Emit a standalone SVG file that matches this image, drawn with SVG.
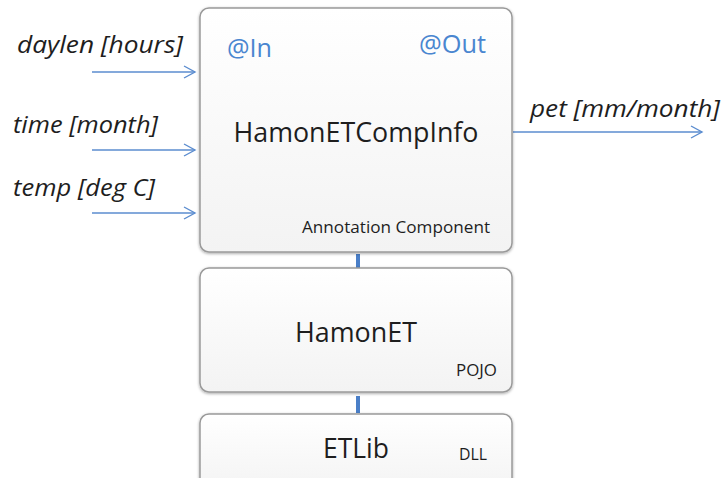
<svg xmlns="http://www.w3.org/2000/svg" width="722" height="478" viewBox="0 0 722 478">
  <defs>
    <linearGradient id="boxFill" x1="0" y1="0" x2="0" y2="1">
      <stop offset="0" stop-color="#ffffff"/>
      <stop offset="1" stop-color="#f3f3f3"/>
    </linearGradient>
    <filter id="shadow" x="-5%" y="-5%" width="110%" height="110%">
      <feGaussianBlur in="SourceAlpha" stdDeviation="1.5"/>
      <feOffset dx="0" dy="1"/>
      <feComponentTransfer><feFuncA type="linear" slope="0.35"/></feComponentTransfer>
      <feMerge><feMergeNode/><feMergeNode in="SourceGraphic"/></feMerge>
    </filter>
    <marker id="openArrow" markerWidth="14" markerHeight="14" refX="12" refY="7" orient="auto" markerUnits="userSpaceOnUse">
      <path d="M1,1 L12,7 L1,13" fill="none" stroke="#5b8ccf" stroke-width="1.4"/>
    </marker>
  </defs>
  <style>
    .box { fill: url(#boxFill); stroke: #9a9a9a; stroke-width: 1.5; filter: url(#shadow); }
    .title { font-family: "Open Sans", "Liberation Sans", sans-serif; font-size: 27px; fill: #1e1e1e; text-anchor: middle; }
    .tag { font-family: "Open Sans", "Liberation Sans", sans-serif; font-size: 16.5px; fill: #1e1e1e; }
    .port { font-family: "Open Sans", "Liberation Sans", sans-serif; font-size: 25px; fill: #4a86d0; }
    .lbl { font-family: "Open Sans", "Liberation Sans", sans-serif; font-style: italic; font-size: 24px; fill: #1e1e1e; }
    .flow { stroke: #5b8ccf; stroke-width: 1.5; fill: none; marker-end: url(#openArrow); }
    .link { stroke: #4a7fc8; stroke-width: 4; }
  </style>

  <!-- Connectors -->
  <g id="connectors">
    <line class="flow" x1="92" y1="72" x2="195" y2="72"/>
    <line class="flow" x1="92" y1="150" x2="195" y2="150"/>
    <line class="flow" x1="92" y1="213" x2="195" y2="213"/>
    <line class="flow" x1="513" y1="132" x2="702" y2="132"/>
    <line class="link" x1="358" y1="254" x2="358" y2="268"/>
    <line class="link" x1="358" y1="396" x2="358" y2="413"/>
  </g>

  <!-- Input / output labels -->
  <g id="labels">
    <text class="lbl" x="17" y="53" textLength="166" lengthAdjust="spacingAndGlyphs">daylen [hours]</text>
    <text class="lbl" x="13" y="133" textLength="145" lengthAdjust="spacingAndGlyphs">time [month]</text>
    <text class="lbl" x="13" y="196" textLength="142" lengthAdjust="spacingAndGlyphs">temp [deg C]</text>
    <text class="lbl" x="530" y="117" textLength="190" lengthAdjust="spacingAndGlyphs">pet [mm/month]</text>
  </g>

  <!-- Annotation component -->
  <g id="hamonETCompInfo">
    <rect class="box" x="200" y="8" width="312" height="244" rx="9"/>
    <text class="port" x="227" y="57" textLength="45" lengthAdjust="spacingAndGlyphs">@In</text>
    <text class="port" x="419" y="53" textLength="67" lengthAdjust="spacingAndGlyphs">@Out</text>
    <text class="title" x="356" y="142" textLength="245" lengthAdjust="spacingAndGlyphs">HamonETCompInfo</text>
    <text class="tag" x="302" y="233" textLength="188" lengthAdjust="spacingAndGlyphs">Annotation Component</text>
  </g>

  <!-- POJO -->
  <g id="hamonET">
    <rect class="box" x="200" y="268" width="312" height="124" rx="9"/>
    <text class="title" x="356" y="342" textLength="122" lengthAdjust="spacingAndGlyphs">HamonET</text>
    <text class="tag" x="456" y="376" textLength="41" lengthAdjust="spacingAndGlyphs">POJO</text>
  </g>

  <!-- Native library -->
  <g id="etLib">
    <rect class="box" x="200" y="414" width="312" height="80" rx="9"/>
    <text class="title" x="356" y="458" textLength="66" lengthAdjust="spacingAndGlyphs">ETLib</text>
    <text class="tag" x="459" y="460" textLength="28" lengthAdjust="spacingAndGlyphs">DLL</text>
  </g>
</svg>
